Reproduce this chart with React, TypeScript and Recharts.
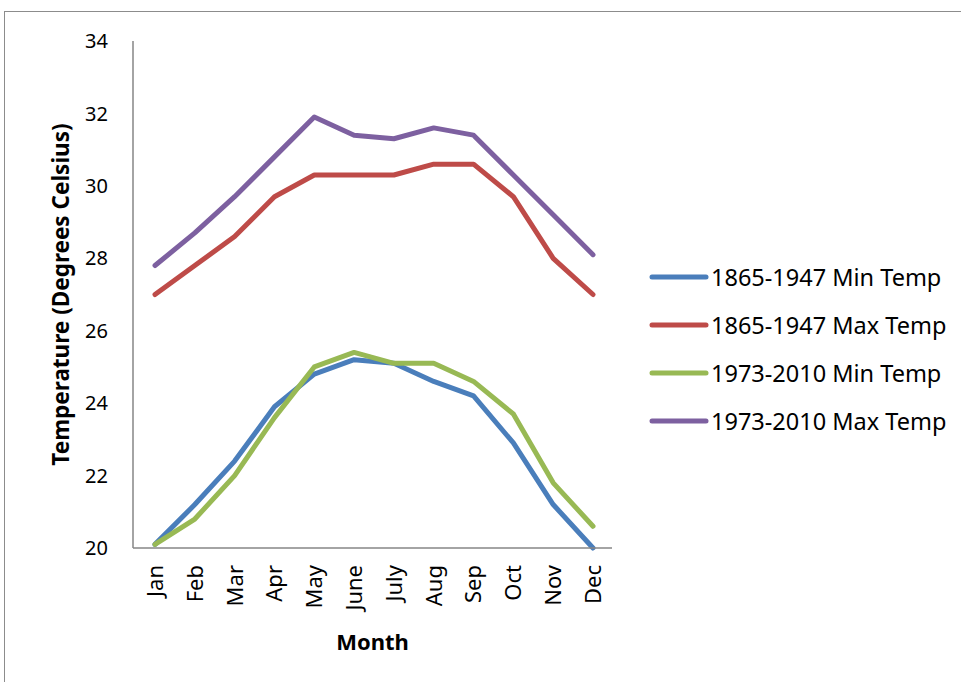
import * as React from "react"
import { CartesianGrid, Legend, Line, LineChart, XAxis, YAxis } from "recharts"

const months = ["Jan", "Feb", "Mar", "Apr", "May", "June", "July", "Aug", "Sep", "Oct", "Nov", "Dec"]
const min1865 = [20.1, 21.2, 22.4, 23.9, 24.8, 25.2, 25.1, 24.6, 24.2, 22.9, 21.2, 20.0]
const max1865 = [27.0, 27.8, 28.6, 29.7, 30.3, 30.3, 30.3, 30.6, 30.6, 29.7, 28.0, 27.0]
const min1973 = [20.1, 20.8, 22.0, 23.6, 25.0, 25.4, 25.1, 25.1, 24.6, 23.7, 21.8, 20.6]
const max1973 = [27.8, 28.7, 29.7, 30.8, 31.9, 31.4, 31.3, 31.6, 31.4, 30.3, 29.2, 28.1]
const yTicks = [20, 22, 24, 26, 28, 30, 32, 34]

const series = [
    { key: "min1865", name: "1865-1947 Min Temp", color: "#4a7ebb" },
    { key: "max1865", name: "1865-1947 Max Temp", color: "#be4b48" },
    { key: "min1973", name: "1973-2010 Min Temp", color: "#98b954" },
    { key: "max1973", name: "1973-2010 Max Temp", color: "#7d60a0" },
]

const FONT = "'Noto Sans', 'Open Sans', sans-serif"

const data = months.map((month, i) => ({
    month,
    min1865: min1865[i],
    max1865: max1865[i],
    min1973: min1973[i],
    max1973: max1973[i],
}))

const MonthTick = ({ x, y, payload }: any) => (
    <text
        x={x}
        y={y}
        transform={`rotate(-90, ${x}, ${y})`}
        textAnchor="end"
        dy="0.36em"
        fontSize={22}
        fontFamily={FONT}
        fill="#000"
    >
        {payload.value}
    </text>
)

const LegendBox = () => (
    <div style={{ position: "absolute", left: 649, top: 253, width: 312, fontFamily: FONT, fontSize: 23.5, color: "#000" }}>
        {series.map((s) => (
            <div key={s.key} style={{ display: "flex", alignItems: "center", height: 48 }}>
                <svg width={60} height={10} style={{ marginRight: 2 }}>
                    <line x1={3} y1={5} x2={57} y2={5} stroke={s.color} strokeWidth={5} strokeLinecap="round" />
                </svg>
                <span style={{ whiteSpace: "nowrap" }}>{s.name}</span>
            </div>
        ))}
    </div>
)

export default function App() {
    return (
        <div style={{ position: "absolute", left: 0, top: 0, width: 961, height: 682, overflow: "hidden", background: "#fff" }}>
            <div style={{ position: "absolute", left: 4, top: 11, width: 1000, height: 700, border: "1px solid #8c8c8c" }} />
            <div style={{ position: "absolute", left: 0, top: 0 }}>
                <LineChart
                    width={961}
                    height={682}
                    data={data}
                    margin={{ top: 41, right: 349, bottom: 0, left: 0 }}
                >
                    <CartesianGrid stroke="none" />
                    <XAxis
                        dataKey="month"
                        height={134}
                        padding={{ left: 22, right: 19 }}
                        axisLine={{ stroke: "#868686", strokeWidth: 1.5 }}
                        tickLine={false}
                        tickSize={0}
                        tickMargin={17}
                        interval={0}
                        tick={<MonthTick />}
                        label={{
                            value: "Month",
                            position: "insideBottom",
                            offset: 32,
                            style: { fontFamily: FONT, fontSize: 22, fontWeight: 700, fill: "#000" },
                        }}
                    />
                    <YAxis
                        width={133}
                        domain={[20, 34]}
                        ticks={yTicks}
                        axisLine={{ stroke: "#868686", strokeWidth: 1.5 }}
                        tickLine={false}
                        tickSize={0}
                        tickMargin={25}
                        tick={{ fontFamily: FONT, fontSize: 20, fill: "#000" }}
                        label={{
                            value: "Temperature (Degrees Celsius)",
                            angle: -90,
                            position: "insideLeft",
                            offset: 61,
                            style: { textAnchor: "middle", fontFamily: FONT, fontSize: 22.5, fontWeight: 700, fill: "#000" },
                        }}
                    />
                    <Legend
                        layout="horizontal"
                        verticalAlign="middle"
                        align="left"
                        content={<LegendBox />}
                        wrapperStyle={{ left: 0, top: 0, width: 0, height: 0 }}
                    />
                    {series.map((s) => (
                        <Line
                            key={s.key}
                            type="linear"
                            dataKey={s.key}
                            name={s.name}
                            stroke={s.color}
                            strokeWidth={5}
                            strokeLinejoin="round"
                            strokeLinecap="round"
                            dot={false}
                            activeDot={false}
                            isAnimationActive={false}
                        />
                    ))}
                </LineChart>
            </div>
        </div>
    )
}
